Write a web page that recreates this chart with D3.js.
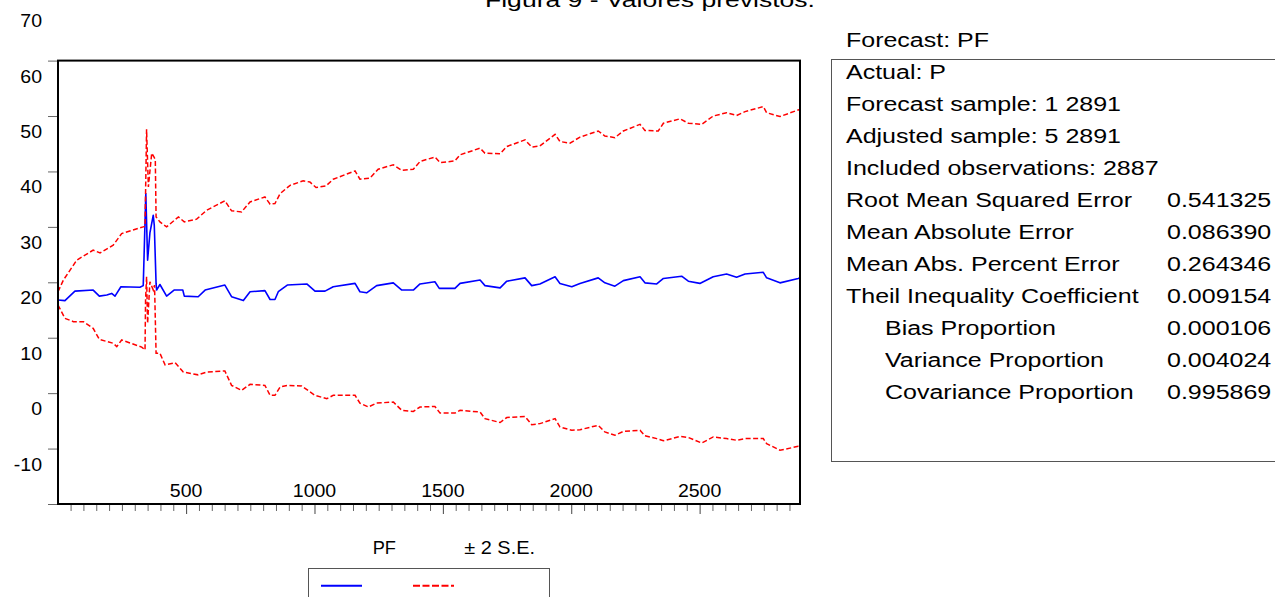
<!DOCTYPE html>
<html><head><meta charset="utf-8">
<script src="https://cdn.jsdelivr.net/npm/d3@7"></script>
<style>
body{margin:0;background:#fff;}
svg{display:block;}
text{font-family:"Liberation Sans",Arial,Helvetica,sans-serif;fill:#000;}
</style>
</head><body>
<svg id="chart" width="1275" height="597"></svg>
<script>
// ---------- DATA ----------
const pfObs = [1,28,67,138,162,191,210,223,246,320,333,343,350,359,372,376,383,385,398,424,453,487,493,547,574,651,677,723,749,807,827,846,859,894,970,1002,1041,1073,1158,1177,1203,1242,1307,1340,1385,1411,1469,1486,1547,1567,1645,1664,1723,1749,1820,1846,1878,1937,1956,2002,2034,2105,2131,2170,2203,2268,2287,2333,2359,2430,2456,2501,2553,2605,2644,2677,2748,2761,2813,2884,2891];
const pfVal = [16.8,16.7,18.4,18.6,17.5,17.7,18.0,17.5,19.2,19.1,19.4,36.0,24.0,28.9,32.1,30.3,19.8,18.6,19.6,17.5,18.6,18.6,17.5,17.4,18.6,19.5,17.4,16.7,18.3,18.5,16.9,16.9,18.3,19.5,19.7,18.4,18.4,19.2,19.8,18.3,18.1,19.4,19.9,18.6,18.6,19.7,20.1,18.9,18.9,19.8,20.4,19.4,19.0,20.2,20.8,19.4,19.7,21.0,19.8,19.2,19.8,20.8,19.9,19.3,20.3,21.0,19.9,19.7,20.7,21.1,20.2,19.8,21.0,21.5,20.9,21.5,21.8,20.8,19.9,20.7,20.8];

const upObs = [1,22,74,138,165,216,249,333,340,346,353,366,375,380,383,398,424,470,493,541,580,651,677,716,749,807,827,846,866,905,956,982,1006,1045,1073,1158,1177,1216,1248,1307,1340,1385,1411,1469,1489,1547,1567,1645,1664,1723,1749,1820,1846,1878,1937,1956,1995,2034,2105,2131,2170,2203,2268,2287,2339,2359,2424,2456,2508,2553,2605,2644,2677,2748,2761,2813,2884,2891];
const upVal = [18.3,20.4,24.0,25.8,25.3,26.7,28.8,30.0,30.1,47.6,37.2,43.3,42.6,42.1,31.8,30.9,30.0,31.8,30.9,31.4,33.0,34.7,32.9,32.7,34.5,35.4,34.1,34.2,36.0,37.5,38.3,38.1,37.1,37.4,38.6,40.1,38.6,38.8,40.4,41.2,40.2,40.4,41.8,42.6,41.6,41.9,43.0,44.2,43.3,43.2,44.5,45.7,44.4,44.6,46.7,45.4,45.1,46.2,47.3,46.4,46.1,47.3,48.5,47.4,47.3,48.7,49.5,48.7,48.5,50.0,50.6,50.1,50.8,51.7,50.6,49.9,51.1,51.2];

const loObs = [1,28,61,100,138,162,216,230,249,327,340,342,346,350,359,372,377,383,398,418,457,489,547,580,651,677,716,749,807,827,846,866,894,950,1002,1048,1073,1158,1177,1210,1242,1307,1340,1385,1411,1469,1489,1547,1567,1645,1664,1723,1749,1820,1846,1878,1937,1956,2002,2034,2105,2131,2170,2203,2268,2287,2333,2359,2424,2456,2508,2553,2605,2644,2677,2748,2761,2813,2884,2891];
const loVal = [15.9,13.5,12.9,12.9,11.7,9.7,9.0,8.4,9.6,8.3,7.8,16.8,21.0,12.6,20.1,18.6,19.5,7.2,7.2,5.1,5.5,3.8,3.3,3.8,4.0,1.4,0.5,1.6,1.4,-0.4,-0.4,1.1,1.4,1.3,-0.4,-1.0,-0.4,-0.4,-1.8,-2.5,-1.8,-1.6,-3.1,-3.3,-2.5,-2.4,-3.6,-3.6,-3.1,-3.4,-4.6,-5.3,-4.4,-4.2,-5.7,-5.5,-4.6,-6.1,-6.7,-6.6,-5.8,-7.0,-7.6,-6.9,-6.7,-7.7,-8.2,-8.6,-7.8,-8.0,-9.0,-7.9,-8.2,-8.5,-8.2,-8.2,-9.1,-10.3,-9.6,-9.6];

const yTickMarks = [60,50,40,30,20,10,0,-10,-20];
const yTickLabels = [70,60,50,40,30,20,10,0,-10];
const xMajorTicks = [500,1000,1500,2000,2500];
const xDomain = [1,2891];
const yDomain = [-20,60];

const titleText = "Figura 9 - Valores previstos.";
const statHeader = "Forecast: PF";
const statLabels = ["Actual: P","Forecast sample: 1 2891","Adjusted sample: 5 2891","Included observations: 2887","Root Mean Squared Error","Mean Absolute Error","Mean Abs. Percent Error","Theil Inequality Coefficient","Bias Proportion","Variance Proportion","Covariance Proportion"];
const statIndent = [0,0,0,0,0,0,0,0,1,1,1];
const statValues = ["","","","","0.541325","0.086390","0.264346","0.009154","0.000106","0.004024","0.995869"];
const legendNames = ["PF","\u00B1 2 S.E."];

// ---------- CHART ----------
const svg = d3.select("#chart");
const L = 58, R = 800, T = 60.6, B = 504;
const x = d3.scaleLinear().domain(xDomain).range([L, R]);
const y = d3.scaleLinear().domain(yDomain).range([B, T]);

// title (clipped at top)
svg.append("text").attr("x", 485).attr("y", 7)
  .attr("font-size", 21).attr("textLength", 330).attr("lengthAdjust", "spacingAndGlyphs")
  .attr("fill", "#222").text(titleText);

// y axis ticks
const yAxis = d3.axisLeft(y).tickValues(yTickMarks).tickSize(10).tickFormat("");
const gy = svg.append("g").attr("transform", `translate(${L},0)`).call(yAxis);
gy.select(".domain").remove();
gy.selectAll("line").attr("stroke", "#666");

svg.append("g").selectAll("text").data(yTickLabels).join("text")
  .attr("transform", d => `translate(42,${y(d) + 22}) scale(1.05,1)`)
  .attr("text-anchor", "end").attr("font-size", 18.6)
  .text(d => d);

// x axis ticks
const minor = d3.range(50, 2891, 50).filter(v => v % 500 !== 0);
const gxm = svg.append("g").attr("transform", `translate(0,${B})`)
  .call(d3.axisBottom(x).tickValues(minor).tickSize(7).tickFormat(""));
gxm.select(".domain").remove();
gxm.selectAll("line").attr("stroke", "#666");
const gxM = svg.append("g").attr("transform", `translate(0,${B})`)
  .call(d3.axisBottom(x).tickValues(xMajorTicks).tickSize(10).tickFormat(""));
gxM.select(".domain").remove();
gxM.selectAll("line").attr("stroke", "#444");

svg.append("g").selectAll("text").data(xMajorTicks).join("text")
  .attr("transform", d => `translate(${x(d)},497.3) scale(1.05,1)`)
  .attr("text-anchor", "middle").attr("font-size", 18.6)
  .text(d => d);

// clip
svg.append("clipPath").attr("id", "plotclip").append("rect")
  .attr("x", L).attr("y", T).attr("width", R - L).attr("height", B - T);

const line = d3.line().x(d => x(d[0])).y(d => y(d[1]));
const pfData = pfObs.map((o, i) => [o, pfVal[i]]);
const upData = upObs.map((o, i) => [o, upVal[i]]);
const loData = loObs.map((o, i) => [o, loVal[i]]);

const gp = svg.append("g").attr("clip-path", "url(#plotclip)");
gp.append("path").datum(pfData).attr("d", line)
  .attr("fill", "none").attr("stroke", "#0000ff").attr("stroke-width", 1.6).attr("stroke-linejoin", "round");
[upData, loData].forEach(dd => {
  gp.append("path").datum(dd).attr("d", line)
    .attr("fill", "none").attr("stroke", "#ff0000").attr("stroke-width", 1.5)
    .attr("stroke-dasharray", "5,2.5");
});

// frame
svg.append("rect").attr("x", L).attr("y", T).attr("width", R - L).attr("height", B - T)
  .attr("fill", "none").attr("stroke", "#000").attr("stroke-width", 2);

// stats box
svg.append("rect").attr("x", 831.5).attr("y", 59.5).attr("width", 600).attr("height", 402)
  .attr("fill", "none").attr("stroke", "#555").attr("stroke-width", 1);
svg.append("text").attr("transform", "translate(846,47.3) scale(1.25,1)")
  .attr("font-size", 20).text(statHeader);
const gs = svg.append("g");
gs.selectAll("text.lbl").data(statLabels).join("text").attr("class", "lbl")
  .attr("transform", (d, i) => `translate(${statIndent[i] ? 885 : 846},${79.3 + i * 32}) scale(1.25,1)`)
  .attr("font-size", 20).text(d => d);
gs.selectAll("text.val").data(statValues).join("text").attr("class", "val")
  .attr("transform", (d, i) => `translate(1167,${79.3 + i * 32}) scale(1.25,1)`)
  .attr("font-size", 20).text(d => d);

// legend
svg.append("text").attr("x", 372.7).attr("y", 554.3).attr("font-size", 17.7)
  .attr("textLength", 23.3).attr("lengthAdjust", "spacingAndGlyphs").text(legendNames[0]);
svg.append("text").attr("x", 464.3).attr("y", 554.3).attr("font-size", 17.7)
  .attr("textLength", 70.7).attr("lengthAdjust", "spacingAndGlyphs").text(legendNames[1]);
svg.append("rect").attr("x", 308.5).attr("y", 568.5).attr("width", 241).attr("height", 60)
  .attr("fill", "none").attr("stroke", "#555").attr("stroke-width", 1);
svg.append("line").attr("x1", 321).attr("x2", 362).attr("y1", 585.7).attr("y2", 585.7)
  .attr("stroke", "#0000ff").attr("stroke-width", 2);
svg.append("line").attr("x1", 413).attr("x2", 454).attr("y1", 585.7).attr("y2", 585.7)
  .attr("stroke", "#ff0000").attr("stroke-width", 2).attr("stroke-dasharray", "7,2.5");
</script>
</body></html>
